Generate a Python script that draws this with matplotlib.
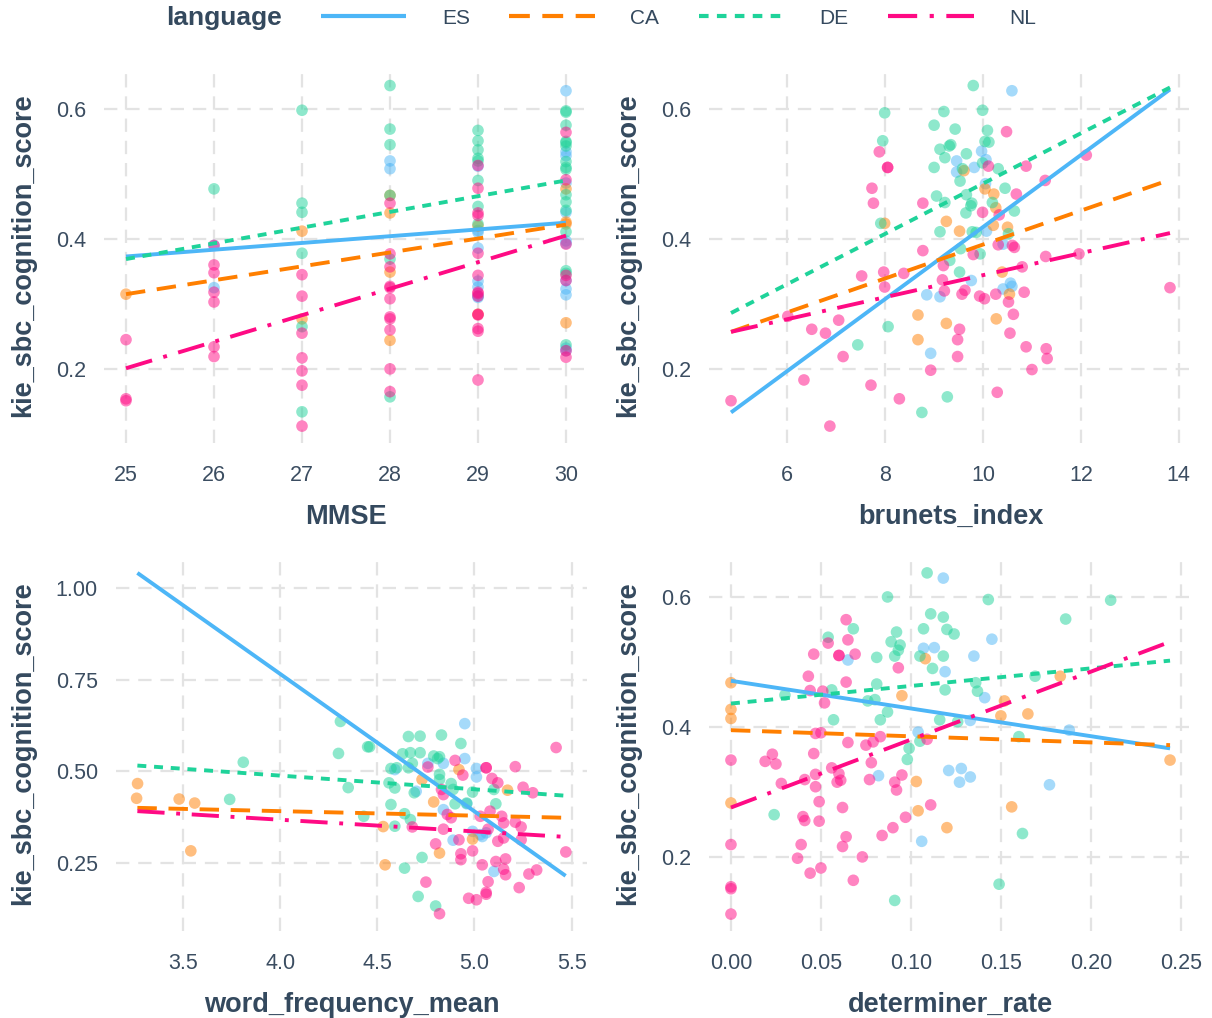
import matplotlib
matplotlib.use("Agg")
import matplotlib.pyplot as plt
from matplotlib.lines import Line2D

plt.rcParams['font.family'] = ['Liberation Sans', 'DejaVu Sans']

languages = ["ES", "CA", "DE", "NL"]
colors = ["#4db6f7", "#ff7f00", "#1fd39a", "#ff0a84"]
styles = ["-", (0, (5, 3)), (0, (2.3, 2)), (0, (7, 3, 1, 3))]

# ---- MMSE panel ----
mmse_es_x = [26, 26, 28, 28] + [29] * 8 + [30] * 12
mmse_es_y = [0.39, 0.325, 0.52, 0.508,
             0.512, 0.413, 0.41, 0.386, 0.335, 0.326, 0.312, 0.31,
             0.628, 0.534, 0.528, 0.486, 0.441, 0.397, 0.393, 0.336, 0.323, 0.314, 0.232, 0.228]
mmse_ca_x = [25, 27, 27, 28, 28, 28, 28, 29, 29, 30, 30, 30, 30]
mmse_ca_y = [0.315, 0.412, 0.277, 0.467, 0.44, 0.349, 0.244, 0.42, 0.284, 0.477, 0.426, 0.423, 0.271]
mmse_de_x = [26] + [27] * 6 + [28] * 6 + [29] * 8 + [30] * 16
mmse_de_y = [0.477,
             0.598, 0.455, 0.441, 0.378, 0.265, 0.134,
             0.636, 0.569, 0.545, 0.467, 0.369, 0.157,
             0.567, 0.551, 0.537, 0.524, 0.52, 0.49, 0.45, 0.423,
             0.597, 0.595, 0.575, 0.55, 0.548, 0.543, 0.519, 0.51, 0.507, 0.468, 0.457, 0.444,
             0.411, 0.351, 0.347, 0.237]
mmse_nl_x = [25] * 3 + [26] * 7 + [27] * 7 + [28] * 11 + [29] * 14 + [30] * 7
mmse_nl_y = [0.245, 0.154, 0.151,
             0.39, 0.36, 0.348, 0.318, 0.303, 0.234, 0.219,
             0.345, 0.312, 0.255, 0.217, 0.197, 0.175, 0.112,
             0.455, 0.377, 0.357, 0.327, 0.325, 0.308, 0.28, 0.277, 0.26, 0.2, 0.165,
             0.513, 0.478, 0.44, 0.436, 0.378, 0.344, 0.318, 0.316, 0.312, 0.284, 0.283, 0.262, 0.258, 0.183,
             0.564, 0.491, 0.392, 0.344, 0.336, 0.228, 0.218]
mmse_fit_x = [25, 30]
mmse_fit_y0 = [0.373, 0.315, 0.369, 0.201]
mmse_fit_y1 = [0.425, 0.422, 0.49, 0.405]

# ---- brunets_index panel ----
bru_es_x = [10.59, 9.97, 9.46, 10.06, 9.82, 9.46, 10.05, 10.07, 10.41, 10.56, 10.59, 10.41, 9.76, 8.85, 9.12, 8.93]
bru_es_y = [0.628, 0.535, 0.52, 0.522, 0.51, 0.503, 0.485, 0.412, 0.392, 0.332, 0.327, 0.323, 0.336, 0.314, 0.311, 0.224]
bru_ca_x = [9.61, 10.04, 10.22, 10.26, 10.21, 10.5, 7.99, 9.25, 9.52, 10.39, 10.54, 8.67, 9.25, 10.27, 8.67]
bru_ca_y = [0.505, 0.477, 0.469, 0.448, 0.421, 0.418, 0.424, 0.427, 0.412, 0.349, 0.315, 0.283, 0.27, 0.277, 0.245]
bru_de_x = [9.80, 7.99, 9.20, 9.99, 7.95, 9.0, 9.43, 10.09, 10.04, 10.12, 9.12, 9.31, 9.34, 9.22, 9.66,
            9.0, 9.58, 9.53, 9.99, 10.31, 10.45, 9.05, 9.22, 9.66, 9.77, 9.75, 9.65, 10.19, 10.64,
            7.91, 9.12, 9.78, 9.86, 10.52, 9.54, 9.94, 9.32, 9.52, 8.06, 7.44, 9.27, 8.75]
bru_de_y = [0.636, 0.594, 0.596, 0.598, 0.551, 0.575, 0.569, 0.567, 0.55, 0.549, 0.538, 0.543, 0.545, 0.525, 0.531,
            0.51, 0.508, 0.489, 0.517, 0.508, 0.478, 0.466, 0.456, 0.468, 0.455, 0.451, 0.44, 0.456, 0.443,
            0.424, 0.411, 0.411, 0.41, 0.408, 0.385, 0.377, 0.367, 0.349, 0.265, 0.237, 0.157, 0.133]
bru_nl_x = [10.48, 7.88, 8.05, 8.05, 12.11, 10.88, 10.11, 11.27, 7.73, 7.76, 8.77, 10.68, 9.99, 10.33,
            8.77, 10.31, 10.64, 10.6, 9.80, 11.28, 11.96, 7.97, 7.99, 8.38, 7.52, 9.19, 9.17, 9.21,
            9.63, 9.57, 9.93, 10.03, 10.26, 10.8, 10.84, 10.52, 10.62, 6.01, 6.5, 6.78, 7.05, 7.14,
            6.34, 7.71, 6.87, 8.29, 8.93, 9.52, 9.48, 9.48, 10.55, 10.88, 11.29, 11.31, 11.0, 10.29,
            4.85, 13.82]
bru_nl_y = [0.565, 0.534, 0.51, 0.51, 0.529, 0.512, 0.512, 0.49, 0.478, 0.455, 0.455, 0.469, 0.441, 0.437,
            0.382, 0.391, 0.387, 0.39, 0.376, 0.373, 0.377, 0.349, 0.326, 0.347, 0.343, 0.359, 0.337, 0.32,
            0.321, 0.315, 0.312, 0.308, 0.315, 0.357, 0.318, 0.303, 0.284, 0.281, 0.261, 0.255, 0.275, 0.219,
            0.183, 0.175, 0.112, 0.154, 0.198, 0.261, 0.245, 0.219, 0.255, 0.234, 0.231, 0.216, 0.199, 0.164,
            0.151, 0.325]
bru_fit_x = [4.85, 13.82]
bru_fit_y0 = [0.133, 0.257, 0.286, 0.257]
bru_fit_y1 = [0.63, 0.491, 0.633, 0.409]

# ---- word_frequency_mean panel ----
wf_es_x = [4.95, 4.95, 4.76, 4.84, 4.59, 5.01, 5.01, 4.70, 4.84, 4.96, 4.99, 5.03, 5.04, 5.06, 4.89, 5.10]
wf_es_y = [0.63, 0.535, 0.522, 0.522, 0.505, 0.508, 0.485, 0.446, 0.396, 0.412, 0.337, 0.328, 0.323, 0.333, 0.313, 0.228]
wf_ca_x = [3.266, 3.261, 3.48, 3.56, 3.54, 4.53, 4.54, 4.73, 4.79, 4.82, 4.92, 5.17, 4.99]
wf_ca_y = [0.467, 0.427, 0.425, 0.414, 0.284, 0.35, 0.246, 0.478, 0.417, 0.278, 0.505, 0.449, 0.316]
wf_de_x = [4.31, 4.30, 4.45, 4.46, 3.81, 3.74, 4.35, 4.43, 4.66, 4.72, 4.83, 4.93, 4.63, 4.67, 4.72, 4.79,
           4.82, 4.81, 4.57, 4.60, 4.68, 4.66, 4.82, 4.82, 4.88, 4.56, 4.59, 4.69, 4.89, 4.99, 5.10,
           4.57, 4.90, 4.96, 5.11, 4.64, 4.67, 4.59, 4.73, 4.64, 4.71, 4.80]
wf_de_y = [0.636, 0.549, 0.567, 0.567, 0.525, 0.424, 0.456, 0.378, 0.595, 0.596, 0.599, 0.576, 0.548, 0.551,
           0.551, 0.542, 0.54, 0.535, 0.508, 0.51, 0.522, 0.51, 0.492, 0.478, 0.467, 0.469, 0.455, 0.442,
           0.451, 0.444, 0.451, 0.41, 0.412, 0.414, 0.412, 0.385, 0.369, 0.351, 0.266, 0.237, 0.16, 0.134]
wf_nl_x = [5.42, 5.21, 5.06, 5.06, 4.90, 4.76, 4.94, 5.09, 5.12, 5.25, 5.30, 4.83, 4.84, 4.88, 4.86, 5.03,
           5.08, 5.14, 5.15, 5.21, 5.24, 5.24, 4.68, 4.84, 4.92, 5.07, 5.12, 5.15, 4.80, 4.99, 4.93, 4.93,
           5.04, 5.11, 5.16, 5.15, 5.16, 5.28, 5.32, 5.23, 5.07, 5.06, 5.06, 4.97, 5.01, 4.75, 4.82, 5.47]
wf_nl_y = [0.565, 0.513, 0.51, 0.51, 0.53, 0.512, 0.49, 0.481, 0.469, 0.457, 0.442, 0.451, 0.437, 0.374,
           0.383, 0.378, 0.392, 0.378, 0.36, 0.362, 0.349, 0.314, 0.349, 0.343, 0.314, 0.343, 0.31, 0.319,
           0.303, 0.284, 0.276, 0.26, 0.246, 0.255, 0.262, 0.234, 0.219, 0.221, 0.232, 0.184, 0.2, 0.171,
           0.166, 0.155, 0.151, 0.199, 0.113, 0.281]
wf_fit_x = [3.265, 5.469]
wf_fit_y0 = [1.04, 0.401, 0.516, 0.392]
wf_fit_y1 = [0.216, 0.374, 0.434, 0.322]

# ---- determiner_rate panel ----
det_es_x = [0.118, 0.145, 0.135, 0.107, 0.113, 0.119, 0.065, 0.141, 0.133, 0.188, 0.104, 0.121, 0.128,
            0.127, 0.133, 0.082, 0.177, 0.106]
det_es_y = [0.629, 0.535, 0.509, 0.521, 0.522, 0.485, 0.503, 0.445, 0.41, 0.395, 0.392, 0.333, 0.336,
            0.315, 0.323, 0.325, 0.311, 0.224]
det_ca_x = [0, 0, 0, 0, 0.108, 0.095, 0.103, 0.104, 0.12, 0.152, 0.150, 0.165, 0.183, 0.156, 0.244]
det_ca_y = [0.468, 0.427, 0.413, 0.283, 0.505, 0.448, 0.316, 0.271, 0.245, 0.44, 0.417, 0.42, 0.478, 0.277, 0.349]
det_de_x = [0.109, 0.087, 0.143, 0.211, 0.186, 0.111, 0.118, 0.107, 0.12, 0.124, 0.092, 0.089, 0.094,
            0.093, 0.091, 0.081, 0.068, 0.054, 0.105, 0.118, 0.112, 0.119, 0.081, 0.056, 0.03, 0.136,
            0.137, 0.169, 0.076, 0.08, 0.087, 0.083, 0.057, 0.116, 0.126, 0.105, 0.099, 0.098, 0.16,
            0.024, 0.162, 0.149, 0.091]
det_de_y = [0.637, 0.6, 0.596, 0.595, 0.566, 0.574, 0.569, 0.551, 0.55, 0.543, 0.546, 0.531, 0.526,
            0.518, 0.509, 0.507, 0.551, 0.538, 0.509, 0.509, 0.49, 0.457, 0.466, 0.457, 0.449, 0.468,
            0.455, 0.478, 0.44, 0.442, 0.423, 0.411, 0.411, 0.411, 0.408, 0.378, 0.367, 0.35, 0.385,
            0.265, 0.236, 0.158, 0.133]
det_nl_x = [0.064, 0.065, 0.054, 0.046, 0.06, 0.06, 0.069, 0.093, 0.043, 0.064, 0.044, 0.051, 0.052,
            0.047, 0.05, 0.065, 0.075, 0.079, 0.083, 0.109, 0.046, 0.078, 0, 0.023, 0.019, 0.025,
            0.056, 0.047, 0.06, 0.095, 0.059, 0.061, 0.077, 0.091, 0.092, 0.028, 0.041, 0.047, 0.049,
            0.111, 0.097, 0.09, 0.084, 0.062, 0.04, 0.041, 0.049, 0.064, 0.062, 0.073, 0.039, 0.037,
            0.05, 0.044, 0.068, 0, 0, 0, 0]
det_nl_y = [0.565, 0.534, 0.529, 0.512, 0.51, 0.51, 0.512, 0.491, 0.478, 0.469, 0.456, 0.455, 0.437,
            0.39, 0.391, 0.376, 0.372, 0.377, 0.385, 0.381, 0.359, 0.345, 0.349, 0.358, 0.347, 0.343,
            0.337, 0.327, 0.328, 0.326, 0.315, 0.318, 0.319, 0.315, 0.303, 0.313, 0.319, 0.308, 0.285,
            0.28, 0.261, 0.245, 0.233, 0.276, 0.262, 0.256, 0.255, 0.231, 0.216, 0.2, 0.219, 0.198,
            0.183, 0.175, 0.164, 0.219, 0.154, 0.151, 0.112]
det_fit_x = [0.0, 0.244]
det_fit_y0 = [0.471, 0.395, 0.436, 0.276]
det_fit_y1 = [0.367, 0.372, 0.502, 0.531]

TEXT = "#34495e"
TICK = "#3b4d61"

fig = plt.figure(figsize=(12.12, 10.18), dpi=100)
W, H = 1212, 1018


def px_axes(left, top, right, bottom):
    return fig.add_axes([left / W, 1 - bottom / H, (right - left) / W, (bottom - top) / H])


panels = [
    (px_axes(104, 68, 588, 443), "MMSE",
     [(mmse_es_x, mmse_es_y), (mmse_ca_x, mmse_ca_y), (mmse_de_x, mmse_de_y), (mmse_nl_x, mmse_nl_y)],
     mmse_fit_x, mmse_fit_y0, mmse_fit_y1, (24.75, 30.25), (0.086, 0.663),
     [25, 26, 27, 28, 29, 30], [0.2, 0.4, 0.6], "{:g}", "{:.1f}"),
    (px_axes(709, 68, 1192, 443), "brunets_index",
     [(bru_es_x, bru_es_y), (bru_ca_x, bru_ca_y), (bru_de_x, bru_de_y), (bru_nl_x, bru_nl_y)],
     bru_fit_x, bru_fit_y0, bru_fit_y1, (4.40, 14.27), (0.086, 0.663),
     [6, 8, 10, 12, 14], [0.2, 0.4, 0.6], "{:g}", "{:.1f}"),
    (px_axes(116, 556, 587, 931), "word_frequency_mean",
     [(wf_es_x, wf_es_y), (wf_ca_x, wf_ca_y), (wf_de_x, wf_de_y), (wf_nl_x, wf_nl_y)],
     wf_fit_x, wf_fit_y0, wf_fit_y1, (3.155, 5.579), (0.066, 1.086),
     [3.5, 4.0, 4.5, 5.0, 5.5], [0.25, 0.5, 0.75, 1.0], "{:.1f}", "{:.2f}"),
    (px_axes(709, 556, 1192, 931), "determiner_rate",
     [(det_es_x, det_es_y), (det_ca_x, det_ca_y), (det_de_x, det_de_y), (det_nl_x, det_nl_y)],
     det_fit_x, det_fit_y0, det_fit_y1, (-0.0122, 0.2562), (0.086, 0.663),
     [0.0, 0.05, 0.10, 0.15, 0.20, 0.25], [0.2, 0.4, 0.6], "{:.2f}", "{:.1f}"),
]

for ax, xlabel, pts, fx, fy0, fy1, xlim, ylim, xt, yt, xfmt, yfmt in panels:
    for (x, y), c in zip(pts, colors):
        ax.scatter(x, y, s=70, color=c, alpha=0.5, edgecolors="none", zorder=2)
    for i, c in enumerate(colors):
        ax.plot(fx, [fy0[i], fy1[i]], color=c, lw=2.8, linestyle=styles[i],
                zorder=3, solid_capstyle="butt", dash_capstyle="butt")
    ax.set_xlim(*xlim)
    ax.set_ylim(*ylim)
    ax.set_xticks(xt)
    ax.set_xticklabels([xfmt.format(v) for v in xt])
    ax.set_yticks(yt)
    ax.set_yticklabels([yfmt.format(v) for v in yt])
    for s in ax.spines.values():
        s.set_visible(False)
    ax.grid(True, color="#e3e3e3", lw=1.6, linestyle=(0, (6, 4)), zorder=0)
    ax.set_axisbelow(True)
    ax.tick_params(axis="both", length=0, labelsize=15.5, labelcolor=TICK)
    ax.tick_params(axis="x", pad=16)
    ax.tick_params(axis="y", pad=13)
    ax.set_xlabel(xlabel, fontsize=19.5, fontweight="bold", color=TEXT, labelpad=13)
    ax.set_ylabel("kie_sbc_cognition_score", fontsize=19.5, fontweight="bold", color=TEXT, labelpad=14)

fig.text(166 / W, 1 - 18 / H, "language", fontsize=19, fontweight="bold", color=TEXT,
         ha="left", va="center")
handles = [Line2D([0], [0], color=c, lw=3, linestyle=st, solid_capstyle="butt", dash_capstyle="butt")
           for c, st in zip(colors, styles)]
leg = fig.legend(handles, languages, loc="center left", bbox_to_anchor=(321 / W, 1 - 18 / H),
                 ncol=4, frameon=False, fontsize=15, handlelength=4.1, handletextpad=1.7,
                 columnspacing=1.9, borderpad=0, borderaxespad=0)
for t in leg.get_texts():
    t.set_color(TEXT)

fig.savefig("out.png", dpi=100)
